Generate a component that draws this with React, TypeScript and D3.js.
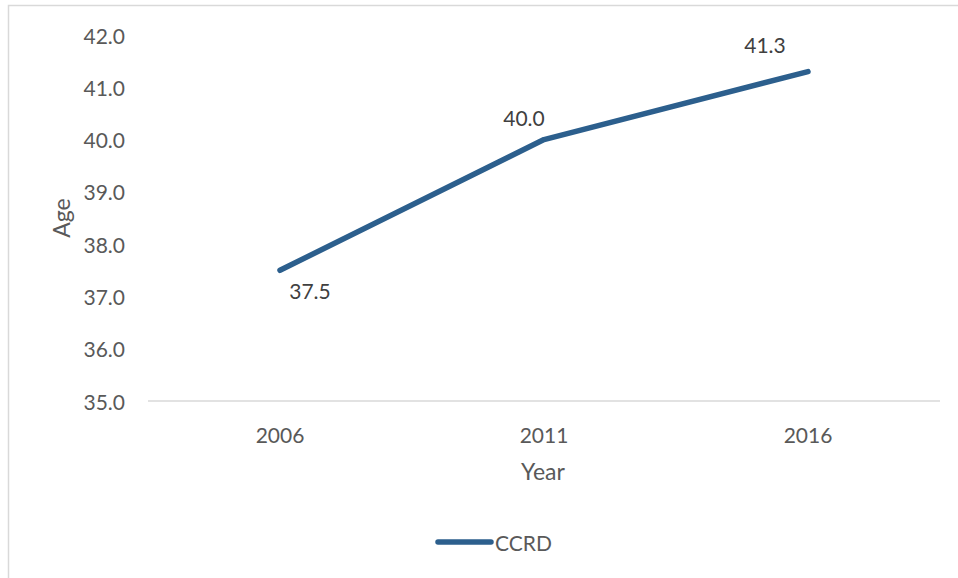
import React, { useEffect, useRef } from 'react';
import * as d3 from 'd3';

// Chart data
const years = ['2006', '2011', '2016'];
const ccrdAge = [37.5, 40.0, 41.3];
const yTicks = [35, 36, 37, 38, 39, 40, 41, 42];
const seriesName = 'CCRD';

const FONT = 'Lato, Carlito, Calibri, "Open Sans", sans-serif';

const App: React.FC = () => {
  const svgRef = useRef<SVGSVGElement>(null);

  useEffect(() => {
    if (!svgRef.current) return;
    const svg = d3.select(svgRef.current);
    svg.selectAll('*').remove();

    const width = 958;
    const height = 578;
    const left = 148;
    const right = 940;
    const top = 35;
    const bottom = 401;

    // chart frame
    svg.append('path')
      .attr('d', `M8.5,${height} V5.5 H${width}`)
      .attr('fill', 'none')
      .attr('stroke', '#d9d9d9')
      .attr('stroke-width', 1.5);

    const x = d3.scalePoint<string>()
      .domain(years)
      .range([left, right])
      .padding(0.5);

    const y = d3.scaleLinear()
      .domain([35, 42])
      .range([bottom, top]);

    // baseline
    svg.append('line')
      .attr('x1', left)
      .attr('x2', right)
      .attr('y1', y(35))
      .attr('y2', y(35))
      .attr('stroke', '#d9d9d9')
      .attr('stroke-width', 1.5);

    // y tick labels
    svg.append('g')
      .selectAll('text')
      .data(yTicks)
      .enter()
      .append('text')
      .attr('x', 125)
      .attr('y', d => y(d))
      .attr('text-anchor', 'end')
      .attr('dominant-baseline', 'central')
      .attr('font-family', FONT)
      .attr('font-size', '21px')
      .attr('fill', '#595959')
      .text(d => d.toFixed(1));

    // x tick labels
    svg.append('g')
      .selectAll('text')
      .data(years)
      .enter()
      .append('text')
      .attr('x', d => x(d) as number)
      .attr('y', 434)
      .attr('text-anchor', 'middle')
      .attr('dominant-baseline', 'central')
      .attr('font-family', FONT)
      .attr('font-size', '21px')
      .attr('fill', '#595959')
      .text(d => d);

    // axis titles
    svg.append('text')
      .attr('transform', `translate(61,218) rotate(-90)`)
      .attr('text-anchor', 'middle')
      .attr('dominant-baseline', 'central')
      .attr('font-family', FONT)
      .attr('font-size', '23px')
      .attr('fill', '#595959')
      .text('Age');

    svg.append('text')
      .attr('x', 543)
      .attr('y', 471)
      .attr('text-anchor', 'middle')
      .attr('dominant-baseline', 'central')
      .attr('font-family', FONT)
      .attr('font-size', '23px')
      .attr('fill', '#595959')
      .text('Year');

    // series line
    const pts = years.map((yr, i) => ({ yr, v: ccrdAge[i] }));
    const line = d3.line<{ yr: string; v: number }>()
      .x(d => x(d.yr) as number)
      .y(d => y(d.v));

    svg.append('path')
      .datum(pts)
      .attr('d', line)
      .attr('fill', 'none')
      .attr('stroke', '#2c5f8d')
      .attr('stroke-width', 5.5)
      .attr('stroke-linecap', 'round')
      .attr('stroke-linejoin', 'round');

    // data labels (first below-right, others above-left)
    const labelOffsets = [
      { dx: 30, dy: 20 },
      { dx: -20, dy: -22 },
      { dx: -43, dy: -27 }
    ];
    svg.append('g')
      .selectAll('text')
      .data(pts)
      .enter()
      .append('text')
      .attr('x', (d, i) => (x(d.yr) as number) + labelOffsets[i].dx)
      .attr('y', (d, i) => y(d.v) + labelOffsets[i].dy)
      .attr('text-anchor', 'middle')
      .attr('dominant-baseline', 'central')
      .attr('font-family', FONT)
      .attr('font-size', '21px')
      .attr('fill', '#404040')
      .text(d => d.v.toFixed(1));

    // legend
    svg.append('line')
      .attr('x1', 438)
      .attr('x2', 491)
      .attr('y1', 542)
      .attr('y2', 542)
      .attr('stroke', '#2c5f8d')
      .attr('stroke-width', 5.5)
      .attr('stroke-linecap', 'round');

    svg.append('text')
      .attr('x', 495)
      .attr('y', 542)
      .attr('dominant-baseline', 'central')
      .attr('font-family', FONT)
      .attr('font-size', '21px')
      .attr('fill', '#595959')
      .text(seriesName);
  }, []);

  return (
    <svg
      ref={svgRef}
      width={958}
      height={578}
      style={{ position: 'absolute', left: 0, top: 0, background: '#fff' }}
    />
  );
};

export default App;
